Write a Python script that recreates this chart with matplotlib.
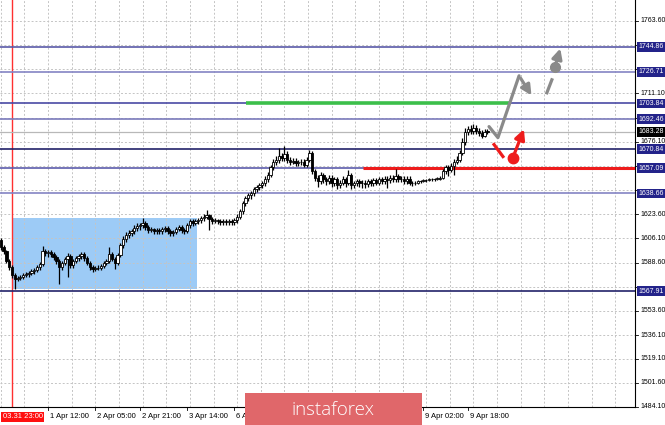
import matplotlib
matplotlib.use("Agg")
import matplotlib.pyplot as plt
from matplotlib.patches import Rectangle
import numpy as np

# ---- data (hourly candles) ----
first_open = 1604.8
closes = [
    1599.7, 1596.8, 1589.6, 1585.3, 1579.5, 1576.6, 1577.3, 1578.0, 1579.5, 1580.2,
    1580.9, 1582.4, 1583.1, 1585.3, 1587.4, 1596.8, 1595.4, 1596.1, 1594.6, 1592.5,
    1589.6, 1585.3, 1588.1, 1591.0, 1593.2, 1586.7, 1589.6, 1591.8, 1593.2, 1594.6,
    1591.8, 1588.1, 1585.3, 1583.8, 1584.5, 1584.9, 1586.0, 1588.1, 1589.6, 1594.6,
    1591.0, 1588.1, 1593.9, 1601.1, 1605.5, 1608.4, 1609.8, 1611.2, 1613.4, 1614.9,
    1615.6, 1617.0, 1614.1, 1612.0, 1612.7, 1611.2, 1612.0, 1611.2, 1612.7, 1613.4,
    1611.2, 1609.8, 1610.5, 1612.7, 1614.1, 1612.0, 1611.2, 1615.6, 1618.5, 1617.0,
    1618.5, 1619.2, 1620.6, 1621.4, 1622.8, 1619.9, 1618.5, 1619.2, 1618.5, 1617.7,
    1618.5, 1617.7, 1618.5, 1617.7, 1619.2, 1621.4, 1625.7, 1631.5, 1635.1, 1637.2,
    1638.7, 1641.6, 1643.0, 1644.5, 1645.9, 1648.8, 1652.4, 1657.5, 1661.1, 1663.2,
    1666.1, 1664.7, 1667.6, 1663.2, 1661.8, 1662.5, 1660.4, 1661.1, 1661.8, 1659.6,
    1663.2, 1668.3, 1654.6, 1650.2, 1647.4, 1651.7, 1648.8, 1647.4, 1650.2, 1645.9,
    1648.8, 1644.5, 1646.6, 1648.8, 1645.9, 1651.7, 1644.5, 1645.9, 1647.4, 1645.9,
    1646.6, 1645.2, 1647.4, 1645.9, 1648.1, 1646.6, 1648.8, 1647.4, 1649.5, 1648.1,
    1650.2, 1648.8, 1651.0, 1648.8, 1649.5, 1647.4, 1649.5, 1646.6, 1645.9, 1646.6,
    1647.4, 1647.6, 1648.1, 1648.3, 1648.8, 1648.9, 1649.1, 1649.5, 1650.2, 1654.6,
    1657.5, 1656.0, 1658.9, 1661.8, 1663.2, 1668.3, 1676.2, 1683.5, 1685.6, 1684.2,
    1686.4, 1684.2, 1682.7, 1680.6, 1683.5, 1683.3,
]
highs = [
    1606.5, 1601.0, 1598.0, 1591.0, 1587.0, 1581.0, 1579.0, 1579.5, 1581.0, 1582.0,
    1582.5, 1584.0, 1585.0, 1587.0, 1589.0, 1600.4, 1598.5, 1598.0, 1597.5, 1596.0,
    1594.0, 1591.0, 1590.0, 1593.0, 1595.4, 1595.0, 1591.5, 1593.5, 1595.0, 1596.5,
    1596.0, 1593.5, 1589.5, 1587.0, 1586.0, 1586.5, 1587.5, 1590.0, 1591.5, 1599.7,
    1596.0, 1592.5, 1595.5, 1603.0, 1607.5, 1610.5, 1612.0, 1613.0, 1615.5, 1617.0,
    1617.5, 1620.6, 1618.5, 1615.5, 1614.5, 1614.0, 1613.5, 1613.5, 1614.5, 1615.0,
    1615.0, 1613.0, 1612.0, 1614.5, 1616.0, 1615.5, 1613.5, 1617.5, 1620.5, 1620.0,
    1620.5, 1621.0, 1622.5, 1623.5, 1626.4, 1624.0, 1621.5, 1621.0, 1620.5, 1620.0,
    1620.0, 1620.0, 1620.5, 1620.0, 1621.0, 1623.5, 1627.5, 1633.5, 1637.0, 1639.0,
    1640.5, 1643.5, 1645.0, 1646.5, 1648.0, 1651.0, 1654.5, 1659.5, 1663.5, 1665.5,
    1671.9, 1668.0, 1673.4, 1669.5, 1665.0, 1664.5, 1664.0, 1663.0, 1663.5, 1663.5,
    1665.0, 1670.5, 1669.5, 1656.5, 1652.0, 1654.0, 1653.5, 1650.5, 1652.0, 1652.0,
    1650.5, 1650.5, 1648.5, 1651.0, 1650.5, 1656.0, 1653.5, 1647.5, 1649.0, 1649.0,
    1648.5, 1648.5, 1649.0, 1649.0, 1650.0, 1650.0, 1650.5, 1650.5, 1651.5, 1651.0,
    1652.0, 1652.0, 1656.7, 1652.5, 1651.5, 1651.0, 1651.0, 1651.0, 1648.0, 1648.0,
    1648.5, 1648.5, 1649.0, 1649.3, 1649.8, 1649.9, 1650.2, 1650.5, 1651.5, 1656.5,
    1659.5, 1659.5, 1661.0, 1663.5, 1665.5, 1670.5, 1678.5, 1686.0, 1687.5, 1688.0,
    1689.2, 1688.0, 1686.0, 1684.5, 1685.5, 1685.0,
]
lows = [
    1598.0, 1595.0, 1588.0, 1583.5, 1577.5, 1569.6, 1575.0, 1575.8, 1576.5, 1578.0,
    1578.5, 1579.5, 1580.5, 1581.5, 1583.5, 1586.0, 1593.5, 1593.0, 1592.5, 1590.5,
    1587.5, 1573.0, 1583.0, 1586.5, 1578.0, 1584.5, 1585.0, 1588.0, 1590.0, 1591.5,
    1590.0, 1586.5, 1583.5, 1582.0, 1582.5, 1583.0, 1583.5, 1584.5, 1586.5, 1588.0,
    1589.5, 1583.8, 1586.5, 1592.5, 1599.5, 1603.5, 1606.5, 1608.0, 1609.5, 1611.5,
    1612.5, 1614.0, 1612.5, 1610.0, 1610.5, 1609.5, 1609.5, 1609.5, 1609.5, 1611.0,
    1609.5, 1608.0, 1608.0, 1609.0, 1611.5, 1610.0, 1609.0, 1610.0, 1614.0, 1615.0,
    1615.5, 1616.5, 1617.5, 1619.0, 1620.0, 1612.0, 1616.5, 1617.0, 1616.5, 1616.0,
    1616.0, 1616.0, 1616.0, 1616.0, 1616.0, 1617.5, 1620.0, 1624.0, 1629.5, 1633.0,
    1635.0, 1637.0, 1639.5, 1641.0, 1642.5, 1644.0, 1647.0, 1650.5, 1655.5, 1659.0,
    1661.0, 1662.5, 1662.5, 1661.0, 1659.5, 1660.0, 1658.5, 1658.5, 1659.0, 1657.5,
    1658.0, 1661.5, 1652.5, 1648.0, 1643.0, 1645.5, 1646.5, 1645.0, 1645.5, 1643.5,
    1644.0, 1642.0, 1642.5, 1645.0, 1643.5, 1644.5, 1642.0, 1642.5, 1644.0, 1643.5,
    1642.3, 1642.3, 1643.5, 1644.0, 1644.0, 1644.5, 1645.0, 1645.5, 1645.5, 1642.3,
    1646.5, 1647.0, 1647.0, 1647.0, 1647.0, 1645.5, 1645.5, 1644.5, 1644.0, 1644.5,
    1645.5, 1646.5, 1646.8, 1647.2, 1647.5, 1647.8, 1648.0, 1648.2, 1648.5, 1649.0,
    1653.0, 1651.0, 1654.5, 1652.0, 1660.0, 1661.5, 1666.5, 1674.0, 1681.0, 1681.5,
    1682.0, 1681.5, 1680.0, 1678.5, 1679.5, 1681.8,
]
current_price = 1683.28

# support / resistance levels and their line colours
levels = [1744.86, 1726.71, 1703.84, 1692.46, 1670.84, 1657.09, 1638.66, 1567.91]
level_colors = ['#5a5aa8', '#8484c4', '#4a4aa4', '#7c7cbc', '#22226a', '#5c5cac', '#8484c4', '#22226a']

# price grid and the tick labels that are not hidden behind level boxes
price_grid = [1484.10, 1501.60, 1519.10, 1536.10, 1553.60, 1571.10, 1588.60, 1606.10,
              1623.60, 1641.10, 1658.60, 1676.10, 1693.60, 1711.10, 1728.60, 1746.10, 1763.60]
price_labels = [1484.10, 1501.60, 1519.10, 1536.10, 1553.60, 1588.60, 1606.10,
                1623.60, 1676.10, 1711.10, 1763.60]

time_tick_bars = [17, 34, 50, 67, 84, 101, 118, 135, 152, 168]
time_tick_labels = ['1 Apr 12:00', '2 Apr 05:00', '2 Apr 21:00', '3 Apr 14:00', '6 Apr 07:00',
                    '', '', '', '9 Apr 02:00', '9 Apr 18:00']
start_bar = 4
start_label = '03.31 23:00'

# consolidation box (bar range, price range)
box_bars = (4, 70.5)
box_prices = (1569.3, 1620.6)

# target lines
green_line = (88.2, 183.1, 1703.84)
red_line = (130.3, 229.0, 1657.09)

# forecast arrows (bar, price)
gray_path = [(175.6, 1687.1), (178.8, 1679.1), (186.4, 1723.9)]
gray_tip = (191.4, 1708.0)
gray2_dash = [(196.4, 1711.6), (198.2, 1721.0)]
gray2_dot = (199.3, 1730.4)
gray2_tip = (201.5, 1745.6)
red_dash = [(177.4, 1674.1), (180.6, 1665.4)]
red_dot = (184.2, 1664.7)
red_tip = (188.5, 1687.1)

FONT = 'Liberation Sans'
FS = 5.0
W, H = 665, 425

fig = plt.figure(figsize=(W / 100, H / 100), dpi=100)
ax = fig.add_axes([0, 18 / H, 635 / W, 407 / H])
ax.set_xlim(-0.3, 228.1)
ax.set_ylim(1484.0, 1778.8)
ax.set_xticks([])
ax.set_yticks([])
for s in ['top', 'left']:
    ax.spines[s].set_visible(False)
for s in ['right', 'bottom']:
    ax.spines[s].set_color('black')
    ax.spines[s].set_linewidth(0.8)

# grid
for p in price_grid:
    ax.axhline(p, color='#c4c4c4', lw=0.7, ls=(0, (2, 2)), zorder=1)
for k in range(0, 28):
    ax.axvline(8.5 * k, color='#c4c4c4', lw=0.7, ls=(0, (2, 2)), zorder=1)

# blue consolidation box
ax.add_patch(Rectangle((box_bars[0], box_prices[0]), box_bars[1] - box_bars[0],
                       box_prices[1] - box_prices[0], facecolor='#9dcbf6',
                       edgecolor='none', zorder=0.5))

# red vertical line at the session start
ax.axvline(start_bar, color='#ff3030', lw=1.0, zorder=2)

# level lines
for lv, c in zip(levels, level_colors):
    ax.axhline(lv, color=c, lw=1.2, zorder=2)
ax.axhline(current_price, color='#b8b8b8', lw=0.9, zorder=2)

ax.plot([green_line[0], green_line[1]], [green_line[2]] * 2, color='#3cbf4a', lw=2.6,
        solid_capstyle='butt', zorder=3)
ax.plot([red_line[0], red_line[1]], [red_line[2]] * 2, color='#ee1c1c', lw=2.2,
        solid_capstyle='butt', zorder=3)

# candles
x = np.arange(len(closes))
opens = np.array([first_open] + closes[:-1])
cl = np.array(closes)
ax.vlines(x, lows, highs, color='black', lw=0.9, zorder=4)
bull = cl >= opens
bottoms = np.minimum(opens, cl)
heights = np.maximum(np.abs(cl - opens), 0.5)
ax.bar(x[bull], heights[bull], bottom=bottoms[bull], width=0.85, color='white',
       edgecolor='black', linewidth=0.6, zorder=5)
ax.bar(x[~bull], heights[~bull], bottom=bottoms[~bull], width=0.85, color='black',
       edgecolor='black', linewidth=0.6, zorder=5)

# forecast arrows
arrow_kw = dict(arrowstyle='-|>', lw=2.3, mutation_scale=15)
gx, gy = zip(*gray_path)
ax.plot(gx, gy, color='#8a8a8a', lw=2.3, zorder=6, solid_capstyle='round')
ax.annotate('', xy=gray_tip, xytext=gray_path[-1],
            arrowprops=dict(color='#8a8a8a', **arrow_kw), zorder=6)
dx, dy = zip(*gray2_dash)
ax.plot(dx, dy, color='#8a8a8a', lw=2.3, zorder=6)
ax.plot(*gray2_dot, 'o', color='#8a8a8a', ms=7, zorder=6)
ax.annotate('', xy=gray2_tip, xytext=gray2_dot,
            arrowprops=dict(color='#8a8a8a', **arrow_kw), zorder=6)
rx, ry = zip(*red_dash)
ax.plot(rx, ry, color='#ee1c1c', lw=2.3, zorder=6)
ax.plot(*red_dot, 'o', color='#ee1c1c', ms=7.5, zorder=6)
ax.annotate('', xy=red_tip, xytext=red_dot,
            arrowprops=dict(color='#ee1c1c', **arrow_kw), zorder=6)

# price axis labels
ytr = ax.get_yaxis_transform()
for p in price_grid:
    ax.plot([1.0, 1.0 + 3 / 635], [p, p], color='black', lw=0.6, transform=ytr, clip_on=False)
for p in price_labels:
    ax.text(1.0 + 5 / 635, p, f'{p:.2f}', transform=ytr, ha='left', va='center',
            fontsize=FS, family=FONT, color='black', clip_on=False, zorder=7)
for lv in levels:
    ax.text(1.0 + 3 / 635, lv, f'{lv:.2f}', transform=ytr, ha='left', va='center',
            fontsize=FS, family=FONT, color='white', clip_on=False, zorder=8,
            bbox=dict(boxstyle='square,pad=0.2', fc='#23238a', ec='none'))
ax.text(1.0 + 3 / 635, current_price, f'{current_price:.2f}', transform=ytr, ha='left',
        va='center', fontsize=FS, family=FONT, color='white', clip_on=False, zorder=9,
        bbox=dict(boxstyle='square,pad=0.2', fc='black', ec='none'))

# time axis labels
xtr = ax.get_xaxis_transform()
for b, lab in zip(time_tick_bars, time_tick_labels):
    ax.plot([b, b], [0, -3 / 407], color='black', lw=0.6, transform=xtr, clip_on=False)
    if lab:
        ax.text(b + 0.7, -10 / 407, lab, transform=xtr, ha='left', va='center',
                fontsize=5.5, family=FONT, color='black', clip_on=False)
ax.text(0.6, -10 / 407, start_label, transform=xtr, ha='left', va='center',
        fontsize=5.5, family=FONT, color='white', clip_on=False, zorder=8,
        bbox=dict(boxstyle='square,pad=0.25', fc='#ff1010', ec='none'))

# logo
fig.patches.append(Rectangle((245 / W, 0), 177 / W, 32 / H, transform=fig.transFigure,
                             facecolor='#e0676a', edgecolor='none', zorder=10))
fig.text(333 / W, 15 / H, 'instaforex', color='white', fontsize=13.5, family='Open Sans',
         fontweight='light', ha='center', va='center', zorder=11)

fig.savefig('out.png', dpi=100, facecolor='white')
